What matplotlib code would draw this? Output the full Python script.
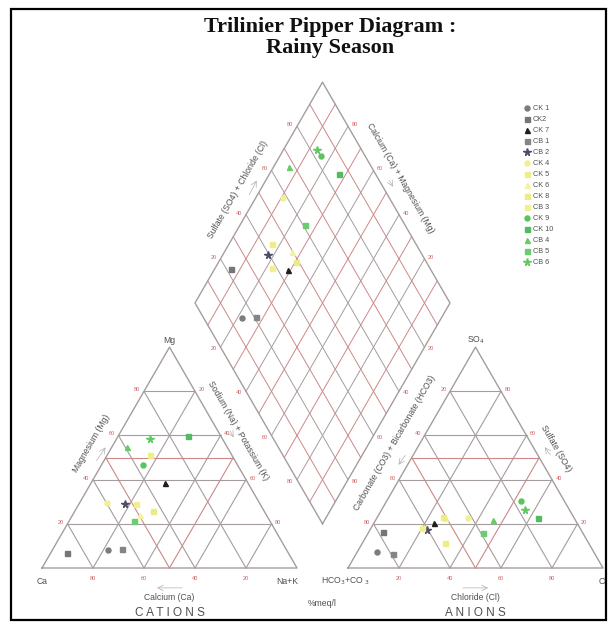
import numpy as np
import matplotlib.pyplot as plt
from matplotlib.patches import Rectangle

# sample names and legend styles
samples = ['CK 1', 'CK2', 'CK 7', 'CB 1', 'CB 2', 'CK 4', 'CK 5', 'CK 6', 'CK 8', 'CB 3',
           'CK 9', 'CK 10', 'CB 4', 'CB 5', 'CB 6']
markers = ['o', 's', '^', 's', '*', 'o', 's', '^', 's', 's',
           'o', 's', '^', 's', '*']
colors = ['#7c7c7c', '#767676', '#1e1e1e', '#858585', '#4e4e66',
          '#f1f192', '#eeee88', '#f3f39c', '#ecec86', '#f0f090',
          '#5cc45c', '#55bb62', '#66cc66', '#6ccc70', '#62c862']

# cations, % meq/l
ca = [70.0, 86.8, 32.5, 64.4, 53.0, 59.8, 32.0, 49.6, 43.6, 48.6, 37.1, 12.8, 39.3, 53.3, 28.4]
mg = [8.2, 6.8, 38.5, 8.6, 29.0, 29.4, 51.2, 24.0, 25.8, 29.0, 46.6, 59.8, 54.8, 21.3, 58.4]
nak = [21.8, 6.4, 29.0, 27.0, 18.0, 10.8, 16.8, 26.4, 30.6, 22.4, 16.3, 27.4, 5.9, 25.4, 13.2]

# anions, % meq/l
hco3 = [85.0, 78.1, 56.1, 79.2, 60.4, 41.6, 56.3, 50.7, 51.0, 61.9, 17.1, 14.2, 32.3, 39.2, 17.4]
so4 = [7.2, 16.3, 20.4, 6.3, 17.2, 22.6, 11.3, 22.6, 23.2, 18.1, 30.3, 22.6, 21.7, 15.8, 26.3]
cl = [7.8, 5.6, 23.5, 14.5, 22.4, 35.8, 32.4, 26.7, 25.8, 20.0, 52.6, 63.2, 46.0, 45.0, 56.3]

ticks = [20, 40, 60, 80]
red_tri = [50]
red_dia = [10, 30, 50, 70, 90]

h = np.sqrt(3) / 2
gap = 20
GRAY = '#a59c9e'
RED = '#cc8888'
TICKC = '#cc6060'
TXT = '#505050'


def cation_xy(m, n):
    m = np.asarray(m, float)
    n = np.asarray(n, float)
    return n + m / 2, m * h


def anion_xy(s, c):
    s = np.asarray(s, float)
    c = np.asarray(c, float)
    return 100 + gap + c + s / 2, s * h


def diamond_xy(cm, sc):
    cm = np.asarray(cm, float)
    sc = np.asarray(sc, float)
    return 100 + gap / 2 + (sc - cm) / 2, gap * h + (cm + sc) * h


fig = plt.figure(figsize=(6.1, 6.24), dpi=100)
ax = fig.add_axes([0, 0, 1, 1])
ax.set_xlim(-42 / 2.55, (610 - 42) / 2.55)
ax.set_ylim(-(624 - 568) / 2.55, 568 / 2.55)
ax.set_aspect('equal')
ax.axis('off')


def tri_grid(ox):
    for v in ticks + red_tri:
        c = RED if v in red_tri else GRAY
        ax.plot([ox + v / 2, ox + 100 - v / 2], [v * h, v * h], c=c, lw=0.8, zorder=1)
        ax.plot([ox + v, ox + v + (100 - v) / 2], [0, (100 - v) * h], c=c, lw=0.8, zorder=1)
        ax.plot([ox + v, ox + v / 2], [0, v * h], c=c, lw=0.8, zorder=1)
    ax.plot([ox, ox + 100, ox + 50, ox], [0, 0, 100 * h, 0], c=GRAY, lw=1.0, zorder=2)


tri_grid(0)
tri_grid(100 + gap)

for v in ticks + red_dia:
    c = RED if v in red_dia else GRAY
    x, y = diamond_xy([v, v], [0, 100])
    ax.plot(x, y, c=c, lw=0.7, zorder=1)
    x, y = diamond_xy([0, 100], [v, v])
    ax.plot(x, y, c=c, lw=0.7, zorder=1)
x, y = diamond_xy([0, 100, 100, 0, 0], [0, 0, 100, 100, 0])
ax.plot(x, y, c=GRAY, lw=1.0, zorder=2)

# tick numbers
tk = dict(fontsize=4, color=TICKC, ha='center', va='center', family='Liberation Sans')
for v in ticks:
    ax.text(v / 2 - 2.6, v * h + 0.6, str(v), **tk)
    ax.text(100 - v / 2 + 2.6, v * h + 0.6, str(100 - v), **tk)
    ax.text(v, -4.2, str(100 - v), **tk)
    ax.text(120 + v / 2 - 2.6, v * h + 0.6, str(100 - v), **tk)
    ax.text(220 - v / 2 + 2.6, v * h + 0.6, str(v), **tk)
    ax.text(120 + v, -4.2, str(v), **tk)
    x, y = diamond_xy(100, v)
    ax.text(x - 2.6, y + 0.6, str(v), **tk)
    x, y = diamond_xy(v, 100)
    ax.text(x + 2.6, y + 0.6, str(v), **tk)
    x, y = diamond_xy(v, 0)
    ax.text(x - 2.6, y - 0.6, str(100 - v), **tk)
    x, y = diamond_xy(0, v)
    ax.text(x + 2.6, y - 0.6, str(100 - v), **tk)

# samples
cm = np.array(ca) + np.array(mg)
sc = np.array(so4) + np.array(cl)
cx, cy = cation_xy(mg, nak)
axx, ayy = anion_xy(so4, cl)
dx, dy = diamond_xy(cm, sc)
for i, name in enumerate(samples):
    ms = 5.5 if markers[i] == '*' else 3.6
    kw = dict(marker=markers[i], color=colors[i], ms=ms, ls='none', mec=colors[i], zorder=4)
    ax.plot(cx[i], cy[i], label=name, **kw)
    ax.plot(axx[i], ayy[i], **kw)
    ax.plot(dx[i], dy[i], **kw)

ax.legend(loc='upper left', bbox_to_anchor=(524 / 610, 1 - 105 / 624),
          bbox_transform=fig.transFigure, frameon=False,
          handlelength=0.8, handletextpad=0.4, labelspacing=0.55, borderpad=0,
          borderaxespad=0, labelcolor=TXT, prop={'family': 'Liberation Sans', 'size': 5.2})

# labels
lab = dict(fontsize=6.2, color=TXT, ha='center', va='center', family='Liberation Sans')
ax.text(50, 100 * h + 2.8, 'Mg', **lab)
ax.text(170, 100 * h + 2.8, 'SO$_4$', **lab)
ax.text(0, -5.2, 'Ca', **lab)
ax.text(96, -5.2, 'Na+K', **lab)
ax.text(119, -5.2, 'HCO$_3$+CO $_3$', **lab)
ax.text(220, -5.2, 'Cl', **lab)
ax.text(50, -11.6, 'Calcium (Ca)', **lab)
ax.text(170, -11.6, 'Chloride (Cl)', **lab)
ax.text(110, -13.8, '%meq/l', **lab)
big = dict(fontsize=8.5, color=TXT, ha='center', va='center', family='Liberation Sans')
ax.text(50, -17.8, 'C A T I O N S', **big)
ax.text(170, -17.8, 'A N I O N S', **big)

ax.text(19.5, 49, 'Magnesium (Mg)', rotation=60, **lab)
ax.text(77, 54, 'Sodium (Na) + Potassium (K)', rotation=-60, **lab)
ax.text(138.4, 49, 'Carbonate (CO3) + Bicarbonate (HCO3)', rotation=60, **lab)
ax.text(201.6, 46.7, 'Sulfate (SO4)', rotation=-60, **lab)
ax.text(76.9, 148.2, 'Sulfate (SO4) + Chloride (Cl)', rotation=60, **lab)
ax.text(140.4, 153, 'Calcium (Ca) + Magnesium (Mg)', rotation=-60, **lab)

arr = dict(arrowstyle='->', color='#b0b0b0', lw=0.5)
ax.annotate('', xy=(44, -7.8), xytext=(56, -7.8), arrowprops=arr)
ax.annotate('', xy=(176, -7.8), xytext=(164, -7.8), arrowprops=arr)
ax.annotate('', xy=(25.5, 48.2), xytext=(20.8, 41.2), arrowprops=arr)
ax.annotate('', xy=(139.2, 39.6), xytext=(143.1, 45.1), arrowprops=arr)
ax.annotate('', xy=(196.5, 48.2), xytext=(200.0, 43.5), arrowprops=arr)
ax.annotate('', xy=(84.7, 152.9), xytext=(80.8, 145.5), arrowprops=arr)
ax.annotate('', xy=(138.2, 148.6), xytext=(135.7, 152.9), arrowprops=arr)
ax.annotate('', xy=(75.7, 50.3), xytext=(73.2, 54.7), arrowprops=arr)

# title
fig.text(0.541, 0.957, 'Trilinier Pipper Diagram :', ha='center', va='center',
         family='Liberation Serif', fontweight='bold', fontsize=16, color='#111111')
fig.text(0.541, 0.923, 'Rainy Season', ha='center', va='center',
         family='Liberation Serif', fontweight='bold', fontsize=16, color='#111111')

fig.patches.append(Rectangle((11 / 610, 4 / 624), 595 / 610, 611 / 624, transform=fig.transFigure,
                             fill=False, ec='black', lw=1.6))

fig.savefig('out.png', dpi=100)
